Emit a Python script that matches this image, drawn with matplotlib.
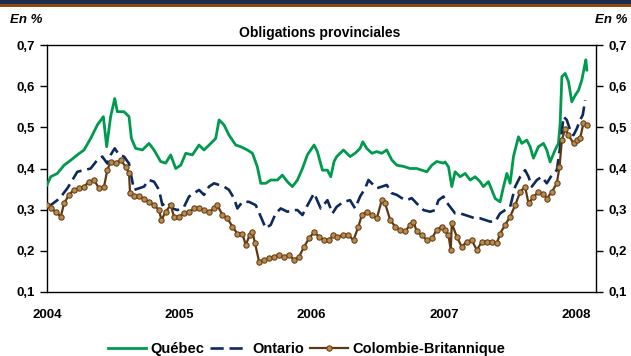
import matplotlib
matplotlib.use("Agg")
import matplotlib.pyplot as plt
from matplotlib.patches import Rectangle
from matplotlib.ticker import FuncFormatter, MultipleLocator

# Provincial bond spreads (percentage points), time in decimal years
quebec_t = [2004.000, 2004.028, 2004.078, 2004.129, 2004.179, 2004.229, 2004.280, 2004.330,
            2004.381, 2004.426, 2004.451, 2004.481, 2004.512, 2004.532, 2004.582, 2004.620,
            2004.638, 2004.670, 2004.721, 2004.771, 2004.809, 2004.859, 2004.897, 2004.935,
            2004.973, 2005.011, 2005.049, 2005.099, 2005.149, 2005.187, 2005.238, 2005.275,
            2005.301, 2005.338, 2005.376, 2005.427, 2005.464, 2005.515, 2005.553, 2005.590,
            2005.616, 2005.653, 2005.691, 2005.742, 2005.779, 2005.817, 2005.855, 2005.893,
            2005.931, 2005.968, 2006.019, 2006.044, 2006.082, 2006.120, 2006.145, 2006.170,
            2006.190, 2006.241, 2006.291, 2006.329, 2006.367, 2006.387, 2006.417, 2006.455,
            2006.493, 2006.531, 2006.568, 2006.606, 2006.644, 2006.695, 2006.745, 2006.795,
            2006.833, 2006.871, 2006.909, 2006.946, 2006.997, 2007.009, 2007.035, 2007.060,
            2007.085, 2007.123, 2007.161, 2007.199, 2007.236, 2007.274, 2007.299, 2007.337,
            2007.362, 2007.388, 2007.425, 2007.451, 2007.476, 2007.501, 2007.526, 2007.564,
            2007.589, 2007.627, 2007.652, 2007.677, 2007.715, 2007.753, 2007.778, 2007.803,
            2007.841, 2007.866, 2007.879, 2007.892, 2007.917, 2007.942, 2007.967, 2007.993,
            2008.018, 2008.043, 2008.060, 2008.073, 2008.081]
quebec_v = [0.360, 0.380, 0.388, 0.408, 0.420, 0.433, 0.445, 0.473,
            0.506, 0.526, 0.453, 0.526, 0.570, 0.538, 0.538, 0.526,
            0.473, 0.449, 0.445, 0.461, 0.445, 0.417, 0.413, 0.433,
            0.400, 0.408, 0.437, 0.433, 0.457, 0.445, 0.461, 0.473,
            0.518, 0.506, 0.481, 0.457, 0.453, 0.445, 0.437, 0.404,
            0.364, 0.364, 0.372, 0.372, 0.384, 0.368, 0.356, 0.372,
            0.400, 0.433, 0.457, 0.441, 0.396, 0.396, 0.380, 0.417,
            0.429, 0.445, 0.429, 0.437, 0.449, 0.465, 0.449, 0.437,
            0.441, 0.437, 0.445, 0.421, 0.408, 0.405, 0.400, 0.400,
            0.396, 0.392, 0.408, 0.417, 0.413, 0.416, 0.404, 0.356,
            0.392, 0.380, 0.388, 0.372, 0.380, 0.368, 0.356, 0.368,
            0.348, 0.327, 0.319, 0.356, 0.388, 0.364, 0.429, 0.477,
            0.461, 0.469, 0.453, 0.425, 0.453, 0.461, 0.445, 0.416,
            0.445, 0.461, 0.510, 0.623, 0.631, 0.611, 0.562, 0.578,
            0.590, 0.615, 0.643, 0.664, 0.639]

ontario_t = [2004.000, 2004.028, 2004.078, 2004.116, 2004.154, 2004.192, 2004.229, 2004.280,
             2004.330, 2004.381, 2004.418, 2004.456, 2004.481, 2004.512, 2004.545, 2004.582,
             2004.620, 2004.638, 2004.658, 2004.696, 2004.733, 2004.771, 2004.809, 2004.847,
             2004.872, 2004.910, 2004.948, 2004.986, 2005.036, 2005.074, 2005.112, 2005.149,
             2005.187, 2005.225, 2005.263, 2005.301, 2005.338, 2005.376, 2005.414, 2005.439,
             2005.477, 2005.527, 2005.578, 2005.616, 2005.653, 2005.691, 2005.729, 2005.767,
             2005.817, 2005.855, 2005.893, 2005.931, 2005.956, 2006.019, 2006.069, 2006.120,
             2006.158, 2006.190, 2006.241, 2006.291, 2006.329, 2006.367, 2006.405, 2006.430,
             2006.455, 2006.493, 2006.531, 2006.568, 2006.606, 2006.644, 2006.682, 2006.720,
             2006.757, 2006.795, 2006.846, 2006.896, 2006.934, 2006.959, 2006.997, 2007.009,
             2007.047, 2007.085, 2007.123, 2007.161, 2007.199, 2007.236, 2007.274, 2007.312,
             2007.350, 2007.388, 2007.425, 2007.463, 2007.501, 2007.539, 2007.577, 2007.614,
             2007.640, 2007.665, 2007.703, 2007.740, 2007.778, 2007.816, 2007.854, 2007.879,
             2007.904, 2007.929, 2007.955, 2007.980, 2008.005, 2008.030, 2008.050, 2008.068]
ontario_v = [0.311, 0.311, 0.323, 0.336, 0.352, 0.372, 0.392, 0.396,
             0.400, 0.421, 0.429, 0.412, 0.433, 0.449, 0.433, 0.429,
             0.412, 0.380, 0.348, 0.352, 0.356, 0.372, 0.368, 0.348,
             0.311, 0.319, 0.303, 0.299, 0.307, 0.332, 0.340, 0.348,
             0.336, 0.356, 0.364, 0.360, 0.356, 0.348, 0.327, 0.303,
             0.319, 0.319, 0.311, 0.283, 0.255, 0.263, 0.291, 0.303,
             0.295, 0.299, 0.299, 0.287, 0.303, 0.340, 0.303, 0.323,
             0.291, 0.307, 0.319, 0.323, 0.303, 0.332, 0.352, 0.372,
             0.364, 0.352, 0.356, 0.360, 0.340, 0.336, 0.328, 0.323,
             0.328, 0.315, 0.299, 0.295, 0.299, 0.323, 0.332, 0.323,
             0.307, 0.291, 0.291, 0.287, 0.283, 0.279, 0.279, 0.275,
             0.271, 0.271, 0.291, 0.299, 0.307, 0.356, 0.380, 0.396,
             0.380, 0.356, 0.372, 0.380, 0.364, 0.384, 0.396, 0.453,
             0.526, 0.518, 0.493, 0.481, 0.497, 0.518, 0.530, 0.566]

bc_t = [2004.000, 2004.028, 2004.066, 2004.104, 2004.129, 2004.166, 2004.204, 2004.242,
        2004.280, 2004.318, 2004.355, 2004.393, 2004.431, 2004.456, 2004.481, 2004.519,
        2004.557, 2004.595, 2004.620, 2004.628, 2004.658, 2004.696, 2004.733, 2004.771,
        2004.809, 2004.847, 2004.865, 2004.897, 2004.935, 2004.960, 2004.998, 2005.036,
        2005.074, 2005.112, 2005.149, 2005.187, 2005.225, 2005.263, 2005.288, 2005.326,
        2005.364, 2005.401, 2005.439, 2005.477, 2005.502, 2005.532, 2005.553, 2005.573,
        2005.603, 2005.641, 2005.679, 2005.716, 2005.754, 2005.792, 2005.830, 2005.868,
        2005.906, 2005.943, 2005.981, 2006.019, 2006.057, 2006.095, 2006.132, 2006.165,
        2006.190, 2006.241, 2006.279, 2006.317, 2006.354, 2006.380, 2006.417, 2006.455,
        2006.493, 2006.531, 2006.556, 2006.594, 2006.632, 2006.669, 2006.707, 2006.745,
        2006.770, 2006.795, 2006.833, 2006.871, 2006.909, 2006.946, 2006.984, 2007.009,
        2007.035, 2007.052, 2007.060, 2007.098, 2007.135, 2007.173, 2007.211, 2007.249,
        2007.287, 2007.325, 2007.362, 2007.400, 2007.425, 2007.463, 2007.501, 2007.539,
        2007.577, 2007.614, 2007.640, 2007.677, 2007.715, 2007.753, 2007.778, 2007.816,
        2007.854, 2007.874, 2007.892, 2007.917, 2007.942, 2007.980, 2008.005, 2008.030,
        2008.055, 2008.081]
bc_v = [0.311, 0.303, 0.295, 0.283, 0.315, 0.336, 0.348, 0.352,
        0.356, 0.368, 0.372, 0.352, 0.356, 0.396, 0.417, 0.413,
        0.421, 0.404, 0.388, 0.340, 0.332, 0.332, 0.327, 0.319,
        0.311, 0.299, 0.275, 0.295, 0.311, 0.283, 0.283, 0.291,
        0.295, 0.303, 0.303, 0.299, 0.295, 0.303, 0.311, 0.287,
        0.279, 0.259, 0.242, 0.242, 0.214, 0.238, 0.246, 0.218,
        0.174, 0.178, 0.182, 0.186, 0.190, 0.186, 0.190, 0.178,
        0.186, 0.210, 0.230, 0.246, 0.234, 0.226, 0.226, 0.238,
        0.234, 0.238, 0.238, 0.226, 0.259, 0.287, 0.295, 0.287,
        0.279, 0.323, 0.315, 0.275, 0.259, 0.251, 0.247, 0.263,
        0.271, 0.247, 0.238, 0.226, 0.230, 0.251, 0.259, 0.250,
        0.238, 0.202, 0.267, 0.234, 0.210, 0.222, 0.226, 0.202,
        0.222, 0.222, 0.222, 0.218, 0.242, 0.263, 0.283, 0.311,
        0.343, 0.356, 0.315, 0.331, 0.343, 0.339, 0.327, 0.343,
        0.364, 0.404, 0.469, 0.497, 0.481, 0.461, 0.469, 0.473,
        0.510, 0.506]

year_ticks = [2004, 2005, 2006, 2007, 2008]
series_labels = ["Québec", "Ontario", "Colombie-Britannique"]
title_text = "Obligations provinciales"
unit_text = "En %"

plt.rcParams["font.family"] = ["Liberation Sans", "DejaVu Sans"]
plt.rcParams["font.weight"] = "bold"

fig = plt.figure(figsize=(6.31, 3.56), dpi=100)
W, H = 631, 356

# Header band across the top of the figure
fig.patches.append(Rectangle((0, 1 - 3.5 / H), 1, 3.5 / H, transform=fig.transFigure,
                             facecolor="#1b2d4f", edgecolor="none", zorder=0))
fig.patches.append(Rectangle((0, 1 - 7 / H), 1, 3.5 / H, transform=fig.transFigure,
                             facecolor="#8e4a0c", edgecolor="none", zorder=0))

ax = fig.add_axes([47 / W, 1 - 292 / H, (596 - 47) / W, (292 - 45) / H])

green = "#009a4e"
navy = "#0c2a5a"
brown = "#5e3812"

ax.plot(quebec_t, quebec_v, color=green, lw=2.0, label=series_labels[0], zorder=3)
ax.plot(ontario_t, ontario_v, color=navy, lw=1.9, dashes=(5, 2.2), label=series_labels[1], zorder=3)
ax.plot(bc_t, bc_v, color=brown, lw=1.6, marker="o", markersize=3.8,
        markerfacecolor="#b98a52", markeredgecolor="#6a4216", markeredgewidth=0.8,
        label=series_labels[2], zorder=4)

ax.set_xlim(2004.0, 2008.15)
ax.set_ylim(0.1, 0.7)
ax.yaxis.set_major_locator(MultipleLocator(0.1))
ax.yaxis.set_major_formatter(FuncFormatter(lambda v, p: f"{v:.1f}".replace(".", ",")))
ax.set_xticks(year_ticks)
ax.set_xticklabels([str(y) for y in year_ticks])

for s in ax.spines.values():
    s.set_color("black")
    s.set_linewidth(1.0)

ax.tick_params(axis="y", which="both", direction="out", length=5, width=1.0,
               left=True, right=True, labelleft=True, labelright=True,
               labelsize=9.5, pad=4)
ax.tick_params(axis="x", length=0, labelsize=9.5, pad=12)
for lbl in ax.get_xticklabels() + ax.get_yticklabels():
    lbl.set_fontweight("bold")

fig.text(0.507, 1 - 33 / H, title_text, ha="center", va="center",
         fontsize=10, fontweight="bold")
fig.text(10 / W, 1 - 20 / H, unit_text, ha="left", va="center",
         fontsize=9.5, fontweight="bold", style="italic")
fig.text(627 / W, 1 - 20 / H, unit_text, ha="right", va="center",
         fontsize=9.5, fontweight="bold", style="italic")

leg = fig.legend(loc="center", bbox_to_anchor=(0.486, 1 - 349 / H), ncol=3,
                 frameon=False, handlelength=2.6, handletextpad=0.25,
                 columnspacing=0.45, prop={"weight": "bold", "size": 10.5})

fig.savefig("out.png", dpi=100)
